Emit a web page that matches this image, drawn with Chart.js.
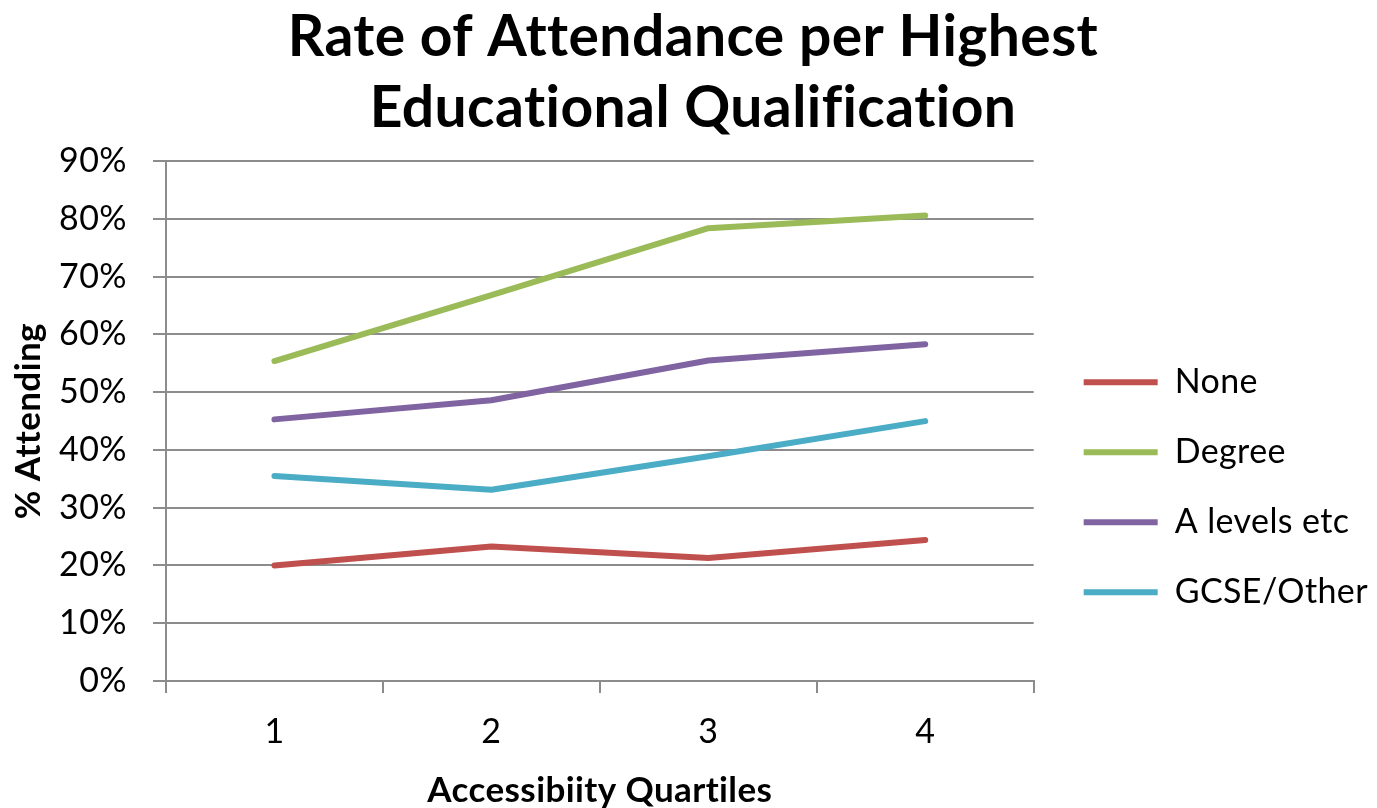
<!DOCTYPE html>
<html>
<head>
<meta charset="utf-8">
<script src="https://cdn.jsdelivr.net/npm/chart.js@4.4.1/dist/chart.umd.min.js"></script>
<style>
  html, body { margin: 0; padding: 0; background: #fff; }
  canvas { display: block; }
</style>
</head>
<body>
<canvas id="attendance-chart" width="1377" height="808"></canvas>
<script>
// Attendance rate (%) by accessibility quartile
const quartiles = ['1', '2', '3', '4'];
const noneRate = [20.0, 23.3, 21.3, 24.4];
const degreeRate = [55.4, 66.8, 78.4, 80.6];
const aLevelsRate = [45.3, 48.6, 55.5, 58.3];
const gcseRate = [35.5, 33.1, 38.9, 45.0];

const seriesNames = ['None', 'Degree', 'A levels etc', 'GCSE/Other'];
const seriesColors = ['#c0504d', '#9bbb59', '#8064a2', '#4bacc6'];
const seriesData = [noneRate, degreeRate, aLevelsRate, gcseRate];

const FONT = 'Lato, "Open Sans", sans-serif';
const gridColor = '#8c8c8c';

const datasets = seriesNames.map((name, i) => ({
    label: name,
    data: seriesData[i],
    borderColor: seriesColors[i],
    backgroundColor: seriesColors[i],
    borderWidth: 6,
    borderCapStyle: 'round',
    borderJoinStyle: 'round',
    pointRadius: 0,
    pointHoverRadius: 0,
    tension: 0,
    fill: false
}));

// a touch of letter spacing keeps the canvas from joining "ti" / "fi"
const noLigatures = {
    id: 'noLigatures',
    beforeUpdate(chart) { chart.ctx.letterSpacing = '0.4px'; },
    beforeDraw(chart) { chart.ctx.letterSpacing = '0.4px'; }
};

const ctx = document.getElementById('attendance-chart').getContext('2d');
const chart = new Chart(ctx, {
    type: 'line',
    data: {
        labels: quartiles,
        datasets: datasets
    },
    plugins: [noLigatures],
    options: {
        responsive: false,
        animation: false,
        layout: {
            padding: { left: 8, right: -1, top: 0, bottom: 0 }
        },
        plugins: {
            title: {
                display: true,
                text: ['Rate of Attendance per Highest', 'Educational Qualification'],
                color: '#000',
                font: { family: FONT, size: 57, weight: 'bold', lineHeight: 1.23 },
                padding: { top: 3, bottom: 18 }
            },
            legend: {
                position: 'right',
                align: 'center',
                maxWidth: 360,
                title: {
                    display: true,
                    text: ' ',
                    padding: { top: 152, bottom: 0 }
                },
                labels: {
                    usePointStyle: true,
                    pointStyle: 'line',
                    pointStyleWidth: 74,
                    color: '#000',
                    font: { family: FONT, size: 34 },
                    padding: 36
                }
            },
            tooltip: { enabled: false }
        },
        scales: {
            x: {
                offset: true,
                grid: {
                    offset: true,
                    drawOnChartArea: false,
                    drawTicks: true,
                    tickLength: 12,
                    color: gridColor,
                    lineWidth: 2
                },
                border: { display: true, color: gridColor, width: 2 },
                ticks: {
                    color: '#000',
                    font: { family: FONT, size: 34 },
                    padding: 19
                },
                title: {
                    display: true,
                    text: 'Accessibiity Quartiles',
                    color: '#000',
                    font: { family: FONT, size: 35, weight: 'bold' },
                    padding: { top: 0, bottom: -4 }
                },
                afterFit(scale) { scale.height = 127; }
            },
            y: {
                min: 0,
                max: 90,
                ticks: {
                    stepSize: 10,
                    color: '#000',
                    font: { family: FONT, size: 34 },
                    padding: 26,
                    callback: v => v + '%'
                },
                grid: {
                    color: gridColor,
                    lineWidth: 2,
                    tickLength: 13
                },
                border: { display: true, color: gridColor, width: 2 },
                title: {
                    display: true,
                    text: '% Attending',
                    color: '#000',
                    font: { family: FONT, size: 35, weight: 'bold' },
                    padding: { top: 0, bottom: 0 }
                },
                afterFit(scale) { scale.width = 158; }
            },
            // empty spacer between the plot and the legend
            gap: {
                type: 'linear',
                position: 'right',
                display: true,
                grid: { display: false },
                border: { display: false },
                ticks: { display: false },
                afterFit(scale) { scale.width = 14; }
            }
        }
    }
});
</script>
</body>
</html>
